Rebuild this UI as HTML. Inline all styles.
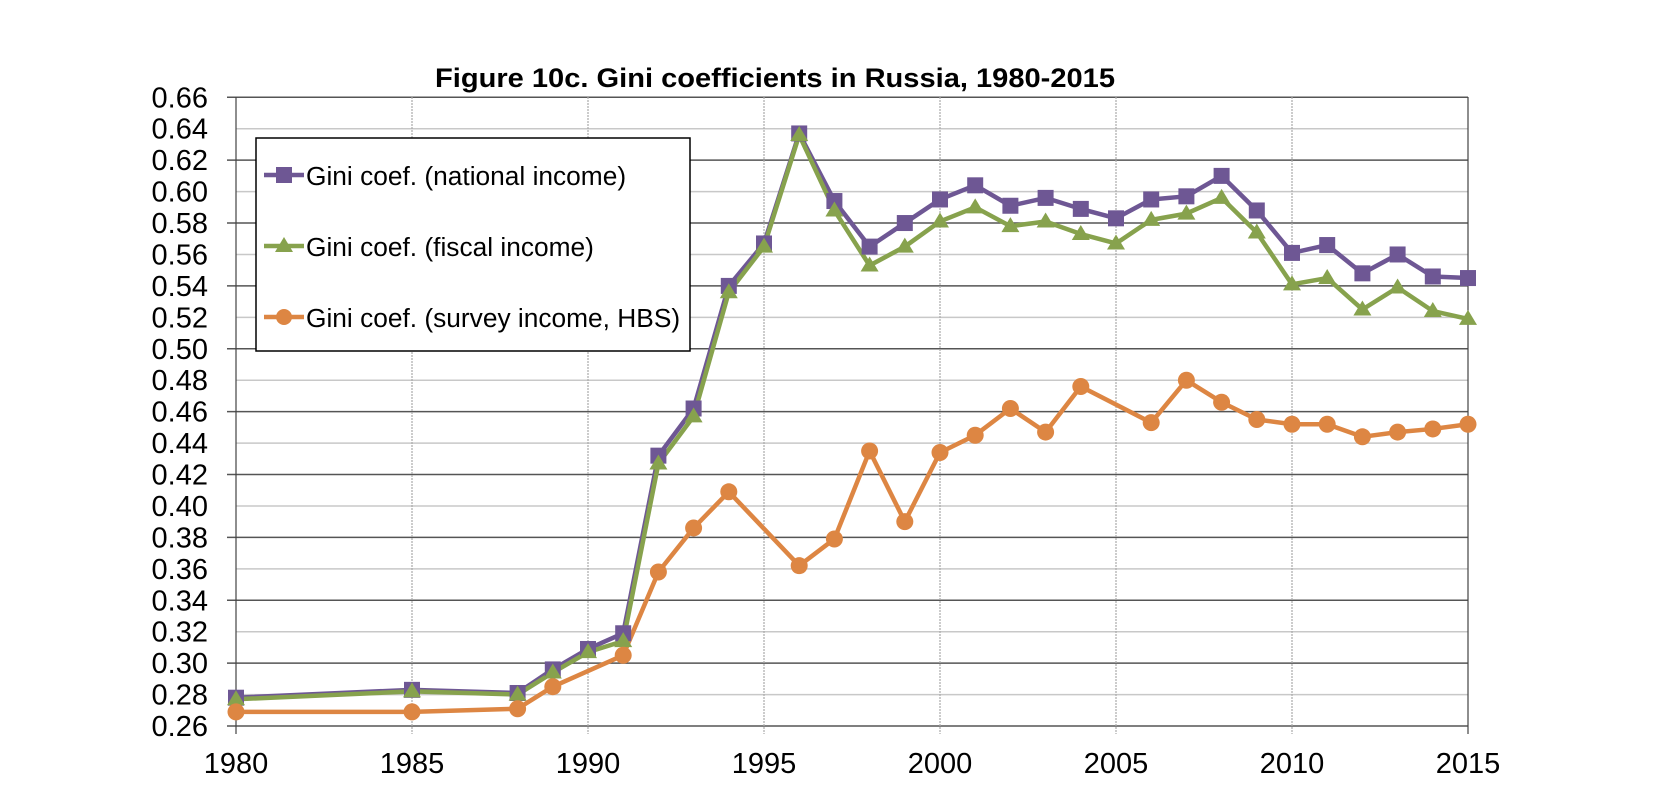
<!DOCTYPE html>
<html><head><meta charset="utf-8"><style>
html,body{margin:0;padding:0;background:#fff;}
svg{display:block;font-family:"Liberation Sans",Arial,sans-serif;}
</style></head><body>
<svg id="chart" width="1680" height="786" viewBox="0 0 1680 786">
<text x="775" y="87" text-anchor="middle" font-size="27" font-weight="bold" textLength="680" lengthAdjust="spacingAndGlyphs">Figure 10c. Gini coefficients in Russia, 1980-2015</text>
<g id="grid"></g><g id="axes"></g><g id="series"></g>
<g>
<rect x="256" y="138" width="434" height="213" fill="#fff" stroke="#000" stroke-width="1.5"/>
<g>
<line x1="264" y1="175" x2="304" y2="175" stroke="#6e5794" stroke-width="4.5"/><rect x="276" y="167" width="16" height="16" fill="#6e5794"/>
<text x="306" y="185" font-size="26.3">Gini coef. (national income)</text></g>
<g>
<line x1="264" y1="246" x2="304" y2="246" stroke="#87a24d" stroke-width="4.5"/><polygon points="284,237 293,252 275,252" fill="#87a24d"/>
<text x="306" y="256" font-size="26.3">Gini coef. (fiscal income)</text></g>
<g>
<line x1="264" y1="317" x2="304" y2="317" stroke="#dd8643" stroke-width="4.5"/><circle cx="284" cy="317" r="8" fill="#dd8643"/>
<text x="306" y="327" font-size="26.3">Gini coef. (survey income, HBS)</text></g>
</g>
</svg>
<script>
const natYears=[1980,1985,1988,1989,1990,1991,1992,1993,1994,1995,1996,1997,1998,1999,2000,2001,2002,2003,2004,2005,2006,2007,2008,2009,2010,2011,2012,2013,2014,2015];
const natValues=[0.278,0.283,0.281,0.296,0.309,0.319,0.432,0.462,0.540,0.567,0.637,0.594,0.565,0.580,0.595,0.604,0.591,0.596,0.589,0.583,0.595,0.597,0.610,0.588,0.561,0.566,0.548,0.560,0.546,0.545];
const fisValues=[0.277,0.282,0.280,0.294,0.307,0.314,0.427,0.457,0.536,0.565,0.636,0.588,0.553,0.565,0.581,0.590,0.578,0.581,0.573,0.567,0.582,0.586,0.596,0.574,0.541,0.545,0.525,0.539,0.524,0.519];
const surYears=[1980,1985,1988,1989,1991,1992,1993,1994,1996,1997,1998,1999,2000,2001,2002,2003,2004,2006,2007,2008,2009,2010,2011,2012,2013,2014,2015];
const surValues=[0.269,0.269,0.271,0.285,0.305,0.358,0.386,0.409,0.362,0.379,0.435,0.390,0.434,0.445,0.462,0.447,0.476,0.453,0.480,0.466,0.455,0.452,0.452,0.444,0.447,0.449,0.452];
const yTicks=[0.26,0.28,0.30,0.32,0.34,0.36,0.38,0.40,0.42,0.44,0.46,0.48,0.50,0.52,0.54,0.56,0.58,0.60,0.62,0.64,0.66];
const xTicks=[1980,1985,1990,1995,2000,2005,2010,2015];

const NS='http://www.w3.org/2000/svg';
const X=yr=>236+(yr-1980)*(1468-236)/35;
const Y=v=>726-(v-0.26)*(726-97.3)/0.40;
function mk(tag,attrs,parent){const e=document.createElementNS(NS,tag);for(const k in attrs)e.setAttribute(k,attrs[k]);parent.appendChild(e);return e;}
const grid=document.getElementById('grid'),axes=document.getElementById('axes'),ser=document.getElementById('series');
yTicks.forEach((t,i)=>{
 const l=mk('line',{x1:i%2?236:227,x2:1468,y1:Y(t),y2:Y(t),stroke:i%2?'#c8c8c8':'#555','stroke-width':1.5},grid);
 
 
 const tx=mk('text',{x:208,y:Y(t)+10,'text-anchor':'end','font-size':29},axes);
 tx.textContent=t.toFixed(2);
 
 
});
xTicks.forEach(t=>{
 const edge=(t===1980||t===2015);
 const l=mk('line',{x1:X(t),x2:X(t),y1:97,y2:734,stroke:edge?'#444':'#aaa','stroke-width':1.2,'stroke-dasharray':edge?'':'2,1'},grid);
 
 
 const tx=mk('text',{x:X(t),y:773,'text-anchor':'middle','font-size':29},axes);
 tx.textContent=t;
 
 
});
function line(xs,vs,color,name){
 const p=mk('polyline',{points:xs.map((x,i)=>X(x)+','+Y(vs[i])).join(' '),fill:'none',stroke:color,'stroke-width':4.5,'stroke-linejoin':'round'},ser);
 
 
}
line(surYears,surValues,'#dd8643','survey');
line(natYears,natValues,'#6e5794','national');
line(natYears,fisValues,'#87a24d','fiscal');
natYears.forEach((yr,i)=>{
 const r=mk('rect',{x:X(yr)-8,y:Y(natValues[i])-8,width:16,height:16,fill:'#6e5794'},ser);
 
 
});
natYears.forEach((yr,i)=>{
 const x=X(yr),y=Y(fisValues[i]);
 const p=mk('polygon',{points:`${x},${y-9} ${x+9},${y+6} ${x-9},${y+6}`,fill:'#87a24d'},ser);
 
 
});
surYears.forEach((yr,i)=>{
 const c=mk('circle',{cx:X(yr),cy:Y(surValues[i]),r:8.5,fill:'#dd8643'},ser);
 
 
});
</script>
</body></html>
